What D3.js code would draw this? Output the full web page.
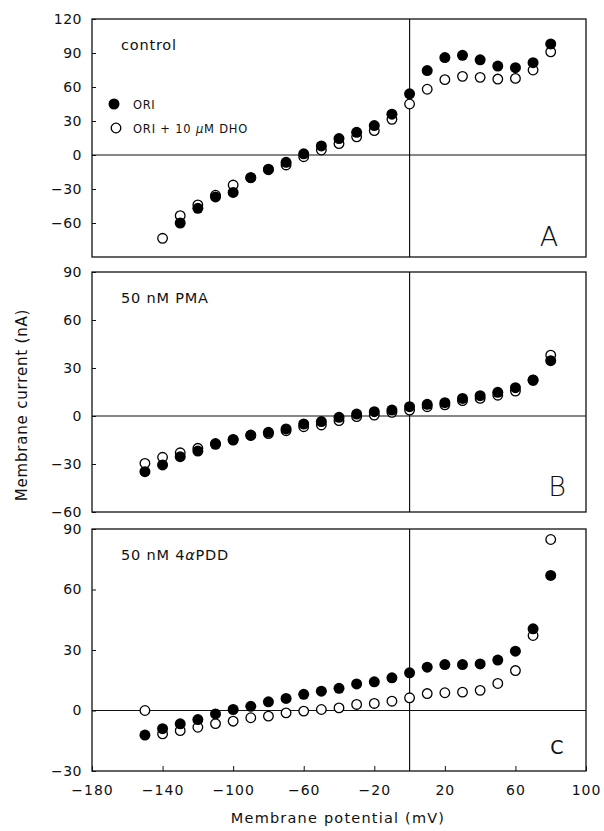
<!DOCTYPE html>
<html>
<head>
<meta charset="utf-8">
<script src="https://cdn.jsdelivr.net/npm/d3@7"></script>
<style>
  html, body { margin: 0; padding: 0; background: #fff; }
  svg { display: block; font-family: "DejaVu Sans", sans-serif; }
</style>
</head>
<body>
<svg id="chart" width="604" height="831"></svg>
<script>
// ---------- data ----------
const voltage = [-150,-140,-130,-120,-110,-100,-90,-80,-70,-60,-50,-40,-30,-20,-10,0,10,20,30,40,50,60,70,80];

const controlORI    = [null,null,-60,-47,-37,-33,-20,-13,-6.5,1,8,14.5,20,26,36,54,74.5,86,88,84,78.5,77,81.5,98];
const controlDHO    = [null,-73.5,-53.5,-44,-35.5,-26.5,-20,-12.5,-8.8,-1.5,4.4,10,16,21.5,31.5,45,58,66.5,69.4,68.5,67,67.6,75,91];

const pmaORI        = [-34.8,-30.6,-25.4,-21.9,-17.7,-15,-11.9,-10.2,-8.1,-5,-3.5,-0.8,1.2,2.7,3.7,5.8,7.3,8.3,11,12.7,14.8,17.7,22.5,34.6];
const pmaDHO        = [-29.6,-25.8,-23,-20.2,-17.2,-14.6,-12.2,-11,-9.2,-6.7,-5.6,-2.9,-0.4,0.6,2.3,3.7,5.8,7,9.6,11,13,15.6,22.3,38];

const pddORI        = [-12.2,-9,-6.6,-4.5,-1.7,0.5,2.1,4.3,6,8,9.6,11,13.2,14.2,16.2,18.7,21.5,22.8,22.8,23.1,25,29.4,40.5,67];
const pddDHO        = [0,-11.6,-10,-8.3,-6.5,-5.3,-3.6,-2.8,-1.2,-0.3,0.5,1.3,3,3.5,4.6,6.3,8.4,8.8,9.1,10,13.4,19.8,37.2,84.8];

const xTicks = [-180,-140,-100,-60,-20,20,60,100];
const panelA_yTicks = [120,90,60,30,0,-30,-60];
const panelB_yTicks = [90,60,30,0,-30,-60];
const panelC_yTicks = [90,60,30,0,-30];

const panels = [
  {label:"A", cond:"control",  domain:[-90,120], ticks:panelA_yTicks, top:19,  bottom:257, filled:controlORI, open:controlDHO, legend:true,  letterSize:27, letterY:246, letterX:549, letterWeight:300},
  {label:"B", cond:"50 nM PMA", domain:[-60,90], ticks:panelB_yTicks, top:272, bottom:512, filled:pmaORI, open:pmaDHO, legend:false, letterSize:27, letterY:496, letterX:557, letterWeight:300},
  {label:"C", cond:"50 nM 4αPDD", domain:[-30,90], ticks:panelC_yTicks, top:529, bottom:771, filled:pddORI, open:pddDHO, legend:false, letterSize:19, letterY:754, letterX:557, letterWeight:400}
];

// ---------- drawing ----------
const svg = d3.select("#chart");
const left = 92, right = 586;
const x = d3.scaleLinear().domain([-180,100]).range([left,right]);
const minus = s => String(s).replace("-", "\u2212");

panels.forEach((p, i) => {
  const y = d3.scaleLinear().domain(p.domain).range([p.bottom, p.top]);
  const g = svg.append("g");

  // zero lines
  g.append("line").attr("x1", left).attr("x2", right).attr("y1", y(0)).attr("y2", y(0))
    .attr("stroke", "#111").attr("stroke-width", 1.2);
  g.append("line").attr("x1", x(0)).attr("x2", x(0)).attr("y1", p.top).attr("y2", p.bottom)
    .attr("stroke", "#111").attr("stroke-width", 1.2);

  // frame
  g.append("rect").attr("x", left).attr("y", p.top).attr("width", right-left).attr("height", p.bottom-p.top)
    .attr("fill", "none").attr("stroke", "#111").attr("stroke-width", 1.3);

  // y axis
  const ya = d3.axisLeft(y).tickValues(p.ticks).tickSizeInner(-4).tickSizeOuter(0).tickPadding(10)
    .tickFormat(d => minus(d));
  const yg = g.append("g").attr("transform", `translate(${left},0)`).call(ya);
  yg.select(".domain").remove();
  yg.selectAll("line").attr("stroke", "#111");
  yg.selectAll("text").attr("font-size", 14).attr("fill", "#111").attr("font-family", "DejaVu Sans")
    .attr("letter-spacing", 0.5);

  // x axis (only last panel gets labels)
  if (i === panels.length - 1) {
    const xa = d3.axisBottom(x).tickValues(xTicks).tickSizeInner(-5).tickSizeOuter(0).tickPadding(14)
      .tickFormat(d => minus(d));
    const xg = g.append("g").attr("transform", `translate(0,${p.bottom})`).call(xa);
    xg.select(".domain").remove();
    xg.selectAll("line").attr("stroke", "#111");
    xg.selectAll("text").attr("font-size", 14).attr("fill", "#111").attr("font-family", "DejaVu Sans")
      .attr("letter-spacing", 1);
  }

  // points: open first, filled on top
  const openPts = voltage.map((v, k) => [v, p.open[k]]).filter(d => d[1] !== null);
  const fillPts = voltage.map((v, k) => [v, p.filled[k]]).filter(d => d[1] !== null);
  g.selectAll("circle.open").data(openPts).join("circle").attr("class", "open")
    .attr("cx", d => x(d[0])).attr("cy", d => y(d[1])).attr("r", 4.8)
    .attr("fill", "#fff").attr("stroke", "#000").attr("stroke-width", 1.3);
  g.selectAll("circle.fill").data(fillPts).join("circle").attr("class", "fill")
    .attr("cx", d => x(d[0])).attr("cy", d => y(d[1])).attr("r", 5.5)
    .attr("fill", "#000");

  // condition label
  const ct = g.append("text").attr("x", 121).attr("y", p.top + 31).attr("font-size", 14.5)
    .attr("letter-spacing", 0.8).attr("fill", "#111");
  if (p.cond.includes("α")) {
    ct.append("tspan").text("50 nM 4");
    ct.append("tspan").attr("font-style", "italic").text("α");
    ct.append("tspan").text("PDD");
  } else {
    ct.text(p.cond);
  }

  // panel letter
  g.append("text").attr("x", p.letterX).attr("y", p.letterY).attr("text-anchor", "middle")
    .attr("font-size", p.letterSize).attr("font-weight", p.letterWeight).attr("fill", "#111").text(p.label);

  // legend
  if (p.legend) {
    g.append("circle").attr("cx", 114).attr("cy", 104).attr("r", 5.5).attr("fill", "#000");
    g.append("text").attr("x", 133).attr("y", 108.5).attr("font-size", 11.5).attr("letter-spacing", 0.6)
      .attr("fill", "#111").text("ORI");
    g.append("circle").attr("cx", 116).attr("cy", 128).attr("r", 4.8).attr("fill", "#fff")
      .attr("stroke", "#000").attr("stroke-width", 1.3);
    const lt = g.append("text").attr("x", 133).attr("y", 132.5).attr("font-size", 11.5)
      .attr("letter-spacing", 0.8).attr("fill", "#111");
    lt.append("tspan").text("ORI + 10 ");
    lt.append("tspan").attr("font-style", "italic").text("μ");
    lt.append("tspan").text("M DHO");
  }
});

// axis titles
svg.append("text").attr("x", 338).attr("y", 823).attr("text-anchor", "middle")
  .attr("font-size", 14.5).attr("letter-spacing", 1.2).attr("fill", "#111").text("Membrane potential (mV)");
svg.append("text").attr("transform", "translate(27,405) rotate(-90)").attr("text-anchor", "middle")
  .attr("font-size", 15).attr("letter-spacing", 0.8).attr("fill", "#111").text("Membrane current (nA)");
</script>
</body>
</html>
